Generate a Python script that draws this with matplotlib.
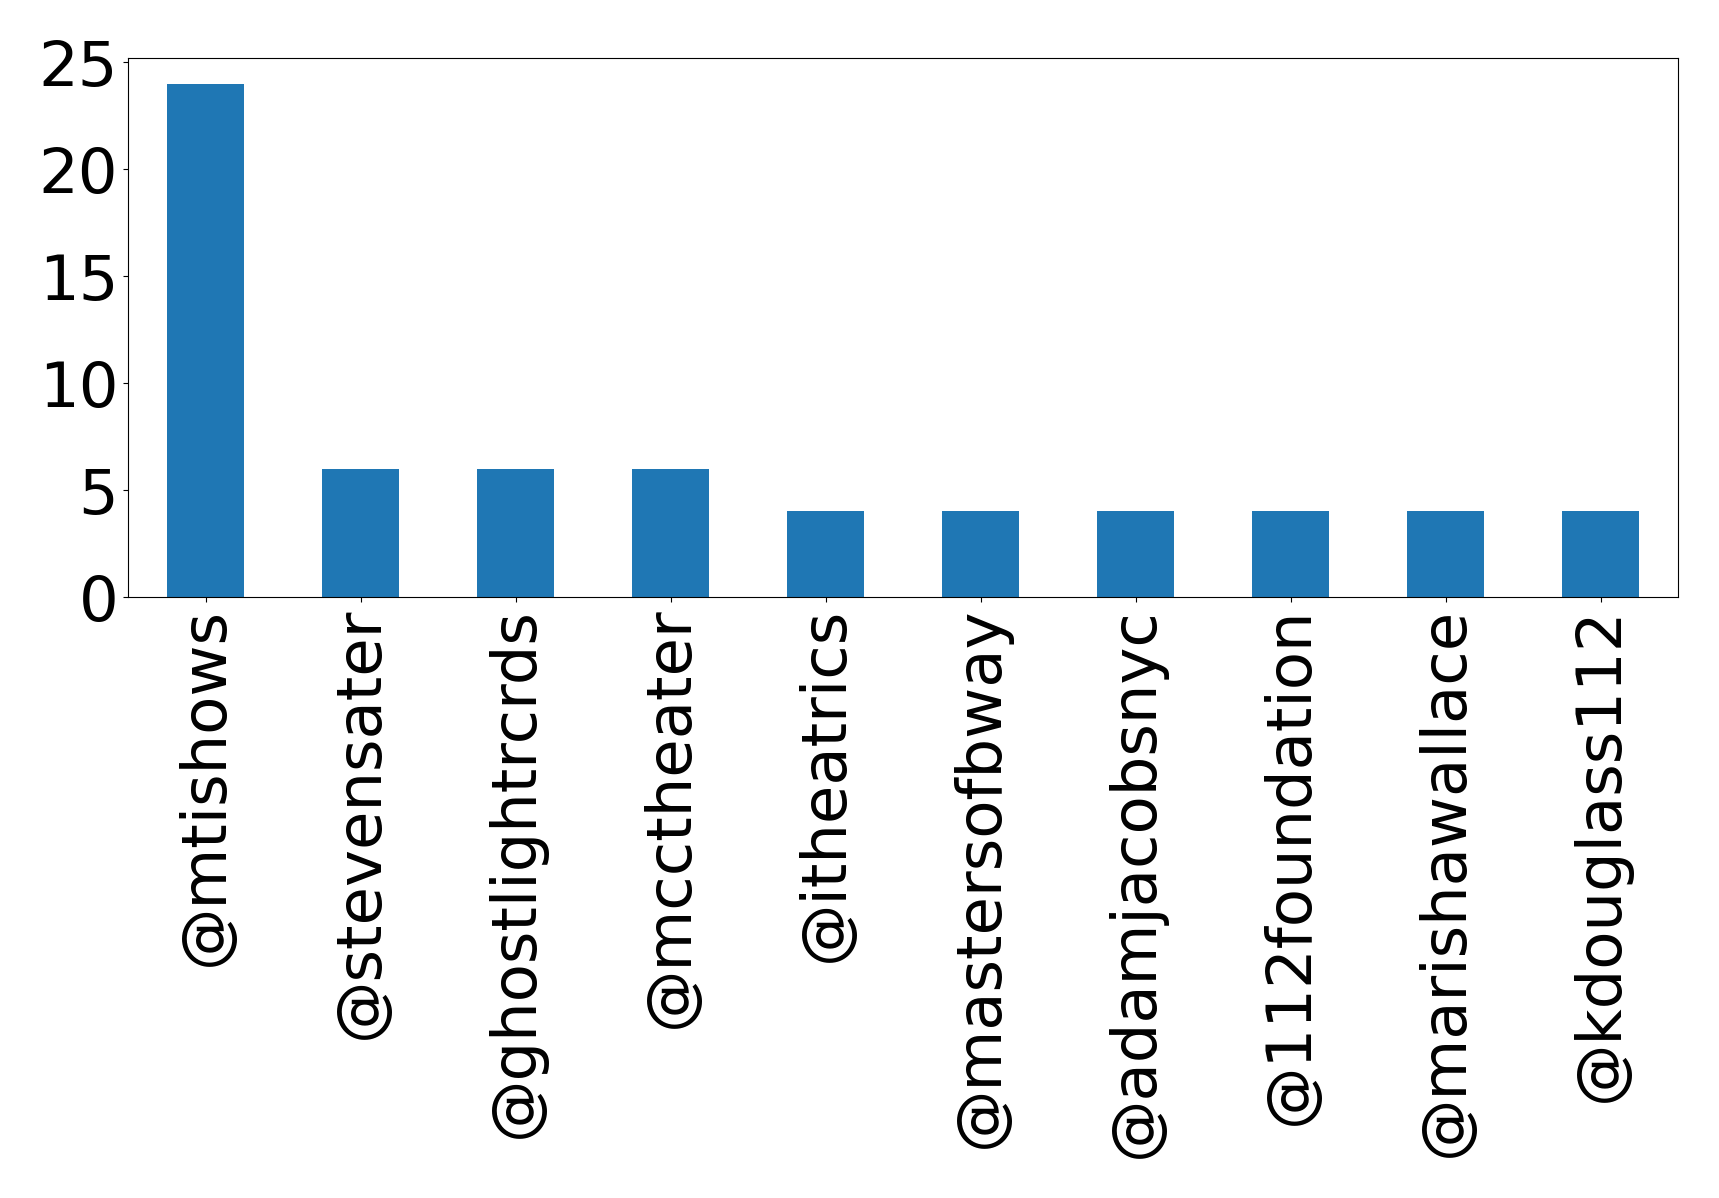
import matplotlib
matplotlib.use('Agg')
import matplotlib.pyplot as plt
import numpy as np

# mentions per account
accounts = ['@mtishows', '@stevensater', '@ghostlightrcrds', '@mcctheater',
            '@itheatrics', '@mastersofbway', '@adamjacobsnyc', '@112foundation',
            '@marishawallace', '@kdouglass112']
counts = [24, 6, 6, 6, 4, 4, 4, 4, 4, 4]
yticks = [0, 5, 10, 15, 20, 25]

fig = plt.figure(figsize=(17.19, 11.98), dpi=100)
ax = fig.add_axes([128 / 1719, 1 - 597 / 1198, (1678 - 128) / 1719, (597 - 58) / 1198])

x = np.arange(len(accounts))
ax.bar(x, counts, width=0.5, color='#1f77b4')
ax.set_xlim(-0.5, len(accounts) - 0.5)
ax.set_xticks(x)
ax.set_xticklabels(accounts, rotation=90)
ax.set_yticks(yticks)
ax.tick_params(axis='both', labelsize=45)

fig.savefig('out.png', dpi=100)
